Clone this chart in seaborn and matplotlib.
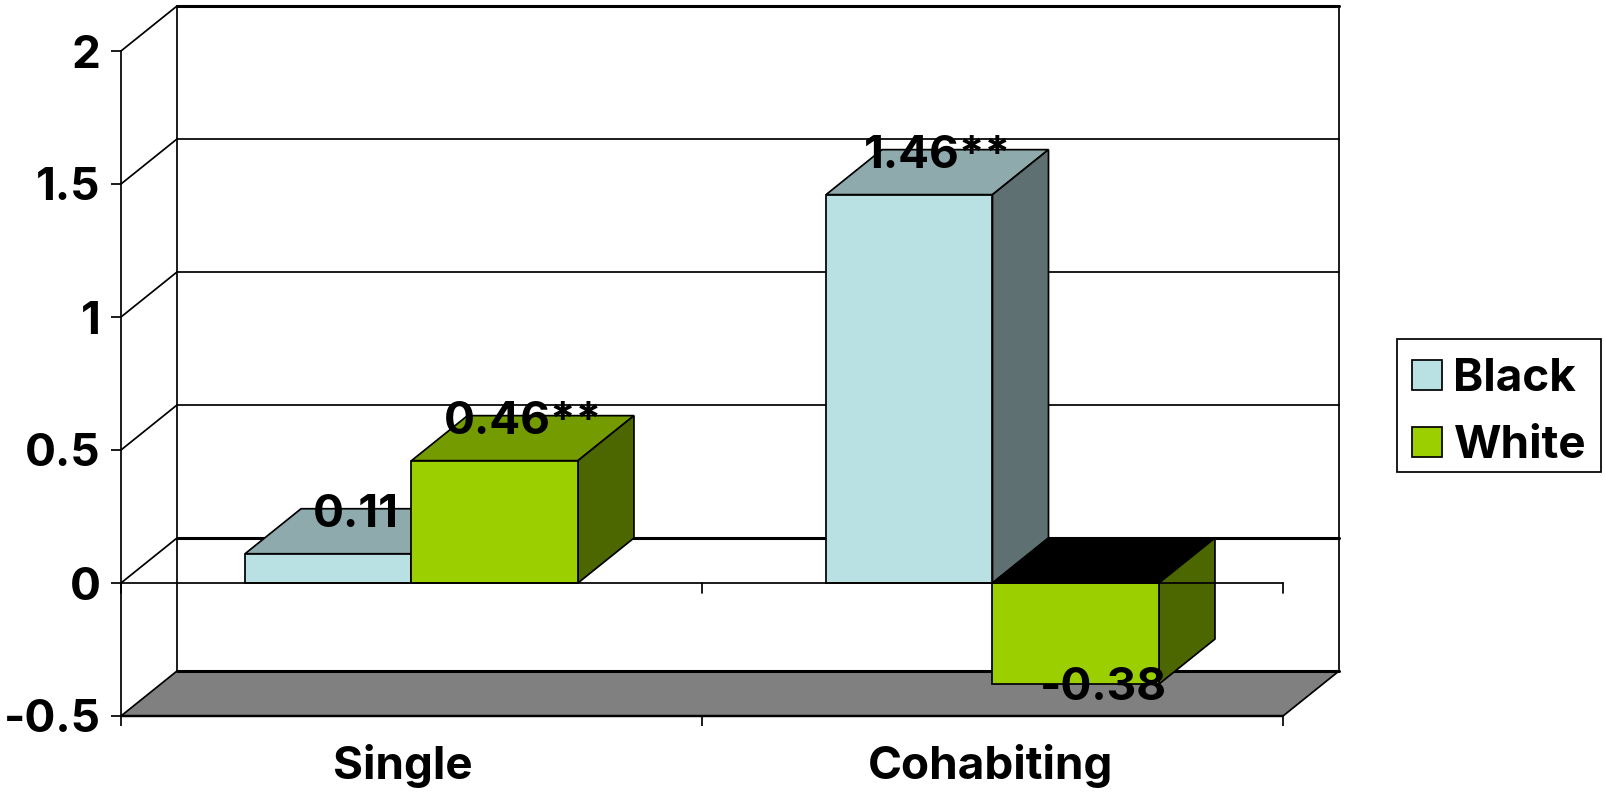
import matplotlib
matplotlib.use("Agg")
import matplotlib.pyplot as plt
from matplotlib.patches import Polygon, Rectangle
from matplotlib.transforms import ScaledTranslation
import pandas as pd
import seaborn as sns

# Chart values
groups = ["Single", "Cohabiting"]
series = ["Black", "White"]
black_values = [0.11, 1.46]
white_values = [0.46, -0.38]
black_labels = ["0.11", "1.46**"]
white_labels = ["0.46**", "-0.38"]
y_ticks = [-0.5, 0, 0.5, 1, 1.5, 2]
y_tick_labels = ["-0.5", "0", "0.5", "1", "1.5", "2"]

# Face colours of the extruded bars
front_colors = {"Black": "#B9E0E3", "White": "#9BCF00"}
top_colors = {"Black": "#8FAAAD", "White": "#749B00"}
side_colors = {"Black": "#5E7072", "White": "#4D6700"}

FONT = "Inter"
FONT_SIZE = 33
W, H = 1606, 794
LEFT, RIGHT, TOP, BOTTOM = 121, 1283, 51, 716
XMIN, XMAX, YMIN, YMAX = -0.5, 1.5, -0.5, 2.0
# Depth of the pseudo-3D box, in data units
DX = 56 / (RIGHT - LEFT) * (XMAX - XMIN)
DY = 45 / (BOTTOM - TOP) * (YMAX - YMIN)
THIN = 1.25
THICK = 2.2

sns.set_theme(style="white", rc={"axes.facecolor": "none", "text.color": "black"})
plt.rcParams["font.family"] = [FONT, "DejaVu Sans"]
plt.rcParams["font.weight"] = "bold"

fig = plt.figure(figsize=(W / 100, H / 100), dpi=100, facecolor="white")
ax = fig.add_axes([LEFT / W, 1 - BOTTOM / H, (RIGHT - LEFT) / W, (BOTTOM - TOP) / H])

df = pd.DataFrame({
    "group": groups * 2,
    "series": [s for s in series for _ in groups],
    "value": black_values + white_values,
})
sns.barplot(
    data=df, x="group", y="value", hue="series", order=groups, hue_order=series,
    palette=front_colors, saturation=1, width=0.573, gap=0, dodge=True,
    edgecolor="black", linewidth=THIN, ax=ax, errorbar=None,
)

ax.set_xlim(XMIN, XMAX)
ax.set_ylim(YMIN, YMAX)
ax.set_xlabel("")
ax.set_ylabel("")

# Back wall
for v in y_ticks[2:5]:
    ax.plot([XMIN + DX, XMAX + DX], [v + DY, v + DY], color="black", lw=THIN, clip_on=False, zorder=0.5)
ax.plot([XMIN + DX, XMAX + DX], [0 + DY, 0 + DY], color="black", lw=THICK, clip_on=False, zorder=0.5)
ax.plot([XMIN + DX, XMAX + DX], [YMAX + DY, YMAX + DY], color="black", lw=THICK, clip_on=False, zorder=0.5)
for x in (XMIN + DX, XMAX + DX):
    ax.plot([x, x], [YMIN + DY, YMAX + DY], color="black", lw=THIN, clip_on=False, zorder=0.5)

# Side wall diagonals
for v in y_ticks[1:]:
    ax.plot([XMIN, XMIN + DX], [v, v + DY], color="black", lw=THIN, clip_on=False, zorder=0.5)

# Floor
ax.add_patch(Polygon(
    [(XMIN, YMIN), (XMAX, YMIN), (XMAX + DX, YMIN + DY), (XMIN + DX, YMIN + DY)],
    closed=True, facecolor="#808080", edgecolor="black", lw=THIN, clip_on=False, zorder=0.7,
))
ax.plot([XMIN + DX, XMAX + DX], [YMIN + DY, YMIN + DY], color="black", lw=THICK, clip_on=False, zorder=0.8)
ax.plot([XMIN, XMAX], [YMIN, YMIN], color="black", lw=THICK * 0.8, clip_on=False, zorder=0.8)

# Extrude every bar backwards: top and side faces sit behind the front face
for i, (name, container) in enumerate(zip(series, ax.containers)):
    base_z = 2 + 2 * i
    for bar in container:
        bar.set_zorder(base_z + 1)
        x0, x1 = bar.get_x(), bar.get_x() + bar.get_width()
        y0, y1 = sorted((bar.get_y(), bar.get_y() + bar.get_height()))
        ax.add_patch(Polygon(
            [(x0, y1), (x1, y1), (x1 + DX, y1 + DY), (x0 + DX, y1 + DY)],
            closed=True, edgecolor="black", lw=THIN, zorder=base_z, clip_on=False,
            facecolor="black" if y0 < 0 else top_colors[name],
        ))
        ax.add_patch(Polygon(
            [(x1, y0), (x1, y1), (x1 + DX, y1 + DY), (x1 + DX, y0 + DY)],
            closed=True, edgecolor="black", lw=THIN, zorder=base_z, clip_on=False,
            facecolor=side_colors[name],
        ))

# Category axis at zero, drawn across the extruded faces
ax.plot([XMIN, XMAX], [0, 0], color="black", lw=THIN, clip_on=False, zorder=7)
for x in (XMIN, 0.5, XMAX):
    ax.plot([x, x], [0, -0.038], color="black", lw=THIN, clip_on=False, zorder=1)

# Value labels
for container, labels in zip(ax.containers, (black_labels, white_labels)):
    for bar, text in zip(container, labels):
        low, high = sorted((bar.get_y(), bar.get_y() + bar.get_height()))
        negative = low < 0
        ax.annotate(
            text, xy=(bar.get_x() + bar.get_width() / 2, low if negative else high),
            xycoords="data", xytext=(20, -3 if negative else 28), textcoords="offset points",
            ha="center", va="center", fontsize=FONT_SIZE, fontweight="bold",
            color="black", zorder=9, annotation_clip=False,
        )

# Axes furniture
for side in ("top", "right", "bottom"):
    ax.spines[side].set_visible(False)
ax.spines["left"].set(color="black", linewidth=THIN, zorder=1)
ax.set_yticks(y_ticks)
ax.set_yticklabels(y_tick_labels, fontsize=FONT_SIZE, fontweight="bold", color="black")
ax.tick_params(axis="y", left=True, length=7.2, width=THIN, pad=7.5, color="black")
ax.set_xticks([0, 1])
ax.set_xticklabels(groups, fontsize=FONT_SIZE, fontweight="bold", color="black")
ax.tick_params(axis="x", which="major", bottom=False, length=0, pad=20.5)
ax.set_xticks([XMIN, 0.5, XMAX], minor=True)
ax.tick_params(axis="x", which="minor", bottom=True, length=7.2, width=THIN, color="black")

# Nudge the category labels slightly left of their ticks
for label, shift in zip(ax.get_xticklabels(), (-6, -1.5)):
    label.set_transform(label.get_transform() + ScaledTranslation(shift / 72, 0, fig.dpi_scale_trans))

# Legend entries and a separately sized frame
sns.move_legend(
    ax, "upper left", bbox_to_anchor=(1403 / W, 1 - 349 / H), bbox_transform=fig.transFigure,
    title=None, frameon=False, fontsize=FONT_SIZE, handlelength=0.65, handleheight=0.65,
    handletextpad=0.25, labelspacing=0.54, borderpad=0.2, borderaxespad=0,
)
ax.get_legend().set_zorder(10)
fig.add_artist(Rectangle(
    (1397 / W, 1 - 472 / H), 204 / W, 133 / H, transform=fig.transFigure,
    facecolor="white", edgecolor="black", linewidth=THIN, zorder=0,
))

fig.savefig("out.png", dpi=100, facecolor="white")
